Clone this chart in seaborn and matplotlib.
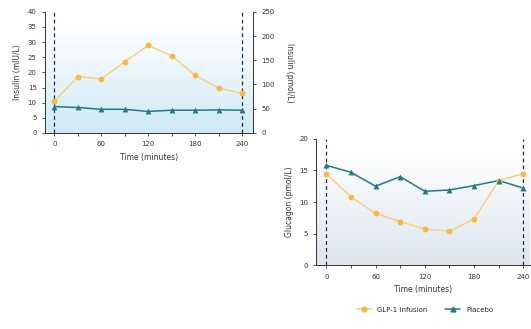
import numpy as np
import pandas as pd
import matplotlib.pyplot as plt
import seaborn as sns
from matplotlib.lines import Line2D

# donnees
time_min = [0, 30, 60, 90, 120, 150, 180, 210, 240]
insulin_glp1 = [10.5, 18.6, 17.8, 23.5, 28.9, 25.5, 19.0, 14.8, 13.1]
insulin_placebo = [8.7, 8.4, 7.8, 7.8, 7.1, 7.5, 7.5, 7.6, 7.5]
glucagon_glp1 = [14.5, 10.8, 8.2, 6.9, 5.7, 5.4, 7.3, 13.4, 14.5]
glucagon_placebo = [15.8, 14.7, 12.5, 14.0, 11.7, 11.9, 12.6, 13.4, 12.2]
groups = ["GLP-1 infusion", "Placebo"]
x_ticks = [0, 60, 120, 180, 240]

sns.set_style("ticks")
plt.rcParams["font.family"] = ["DejaVu Sans"]

orange = "#F5B94A"
orange_line = "#F8CF86"
teal = "#23798A"
navy = "#1F2A44"
pal = {groups[0]: orange_line, groups[1]: teal}
marks = {groups[0]: "o", groups[1]: "^"}

ins = pd.DataFrame({"time": time_min * 2,
                    "value": insulin_glp1 + insulin_placebo,
                    "group": [groups[0]] * 9 + [groups[1]] * 9})
glu = pd.DataFrame({"time": time_min * 2,
                    "value": glucagon_glp1 + glucagon_placebo,
                    "group": [groups[0]] * 9 + [groups[1]] * 9})

fig = plt.figure(figsize=(5.31, 3.29), dpi=100)
ax1 = fig.add_axes([0.0847, 0.596, 0.392, 0.368])
ax2 = fig.add_axes([0.596, 0.194, 0.402, 0.384])


def fond(ax, xlim, ylim, c_bas):
    grad = np.linspace(0, 1, 100).reshape(-1, 1)
    cmap = sns.blend_palette(["white", c_bas], as_cmap=True)
    ax.imshow(grad, extent=[xlim[0], xlim[1], ylim[0], ylim[1]], origin="upper",
              aspect="auto", cmap=cmap, zorder=0, vmin=0.1, vmax=1.0)


def panneau(ax, df, xlim, ylim, yticks, ylabel, c_bas):
    fond(ax, xlim, ylim, c_bas)
    for g in groups:
        d = df[df["group"] == g]
        sns.lineplot(data=d, x="time", y="value", color=pal[g], lw=1.1, ax=ax, zorder=2)
        ax.scatter(d["time"], d["value"], marker=marks[g], s=18,
                   color=orange if g == groups[0] else teal, zorder=3, linewidths=0)
    for xv in [0, 240]:
        ax.axvline(xv, color=navy, ls=(0, (3, 2.5)), lw=0.9, zorder=1)
    ax.set_xlim(*xlim)
    ax.set_ylim(*ylim)
    ax.set_xticks(x_ticks)
    ax.set_xticks([30, 90, 150, 210], minor=True)
    ax.set_yticks(yticks)
    ax.set_xlabel("Time (minutes)", fontsize=5.5, color="#333333")
    ax.set_ylabel(ylabel, fontsize=5.5, color="#333333")
    ax.tick_params(labelsize=5, length=2.5, width=0.6, colors="#333333")
    ax.tick_params(which="minor", length=2.5, width=0.6)
    for s in ["left", "bottom"]:
        ax.spines[s].set_linewidth(0.7)
        ax.spines[s].set_color("#333333")
    ax.spines["top"].set_visible(False)
    ax.spines["right"].set_visible(False)


panneau(ax1, ins, (-12, 254), (0, 40), range(0, 41, 5), "Insulin (mIU/L)", "#CFEAF5")
panneau(ax2, glu, (-12, 248), (0, 20), range(0, 21, 5), "Glucagon (pmol/L)", "#DCE5EE")

# axe droit insuline en pmol/L
ax1r = ax1.twinx()
ax1r.set_ylim(0, 250)
ax1r.set_yticks(range(0, 251, 50))
ax1r.set_ylabel("Insulin (pmol/L)", fontsize=5.5, color="#333333", rotation=270, labelpad=14)
ax1r.tick_params(labelsize=5, length=2.5, width=0.6, colors="#333333")
for s in ["left", "top", "bottom"]:
    ax1r.spines[s].set_visible(False)
ax1r.spines["right"].set_linewidth(0.7)
ax1r.spines["right"].set_color("#333333")

handles = [Line2D([], [], color=orange_line, marker="o", mfc=orange, mec=orange, ms=3.5, lw=1.1),
           Line2D([], [], color=teal, marker="^", mfc=teal, mec=teal, ms=3.5, lw=1.1)]
fig.legend(handles, groups, loc="center", bbox_to_anchor=(0.8, 0.058), ncol=2,
           frameon=False, fontsize=5, handlelength=2.2, columnspacing=2.5)

fig.savefig("out.png", dpi=100)
